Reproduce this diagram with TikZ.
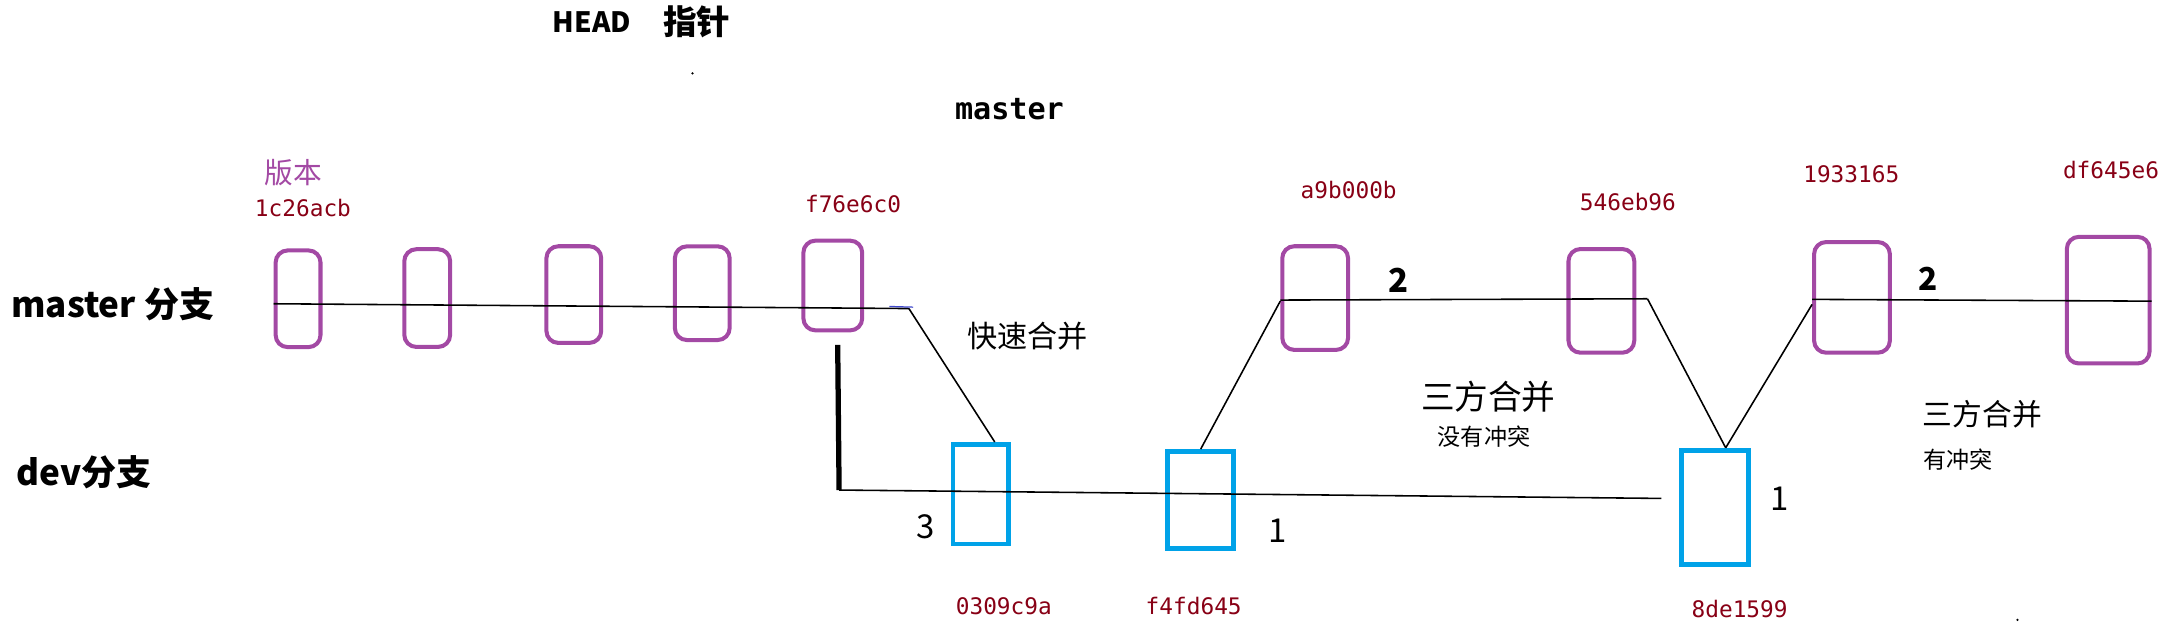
\documentclass[tikz,border=0pt]{standalone}
\usepackage{fontspec}
\setmainfont{Noto Sans CJK SC}
\newfontfamily\hashfont{DejaVu Sans Mono}
\usetikzlibrary{positioning}
\definecolor{commitpurple}{RGB}{163,73,164}
\definecolor{devcyan}{RGB}{0,162,232}
\definecolor{hashred}{RGB}{136,0,21}
\definecolor{dashblue}{RGB}{63,72,204}

\begin{document}
\begin{tikzpicture}[x=0.014cm, y=-0.014cm,
    mbox/.style={draw=commitpurple, line width=1.15pt, rounded corners=1.2mm, inner sep=0pt},
    dbox/.style={draw=devcyan, line width=1.35pt, inner sep=0pt},
    hash/.style={text=hashred, font=\hashfont\fontsize{6.5}{7}\selectfont, inner sep=0pt},
    branch/.style={font=\bfseries\fontsize{10}{12}\selectfont, anchor=west, inner sep=0pt},
    merge/.style={font=\fontsize{9.6}{11}\selectfont, inner sep=0pt},
    note/.style={font=\fontsize{6.6}{8}\selectfont, inner sep=0pt},
    count/.style={font=\fontsize{9.4}{11}\selectfont, inner sep=0pt},
    edge/.style={line width=0.45pt}]
    \useasboundingbox (0,0) rectangle (1560,451);

    \node [branch] (mb) at (7.6,218) {master 分支};
    \node [branch] (db) at (11.5,338) {dev分支};
    \node [font=\bfseries\fontsize{8}{10}\selectfont, inner sep=0pt] (head) at (424,16) {HEAD};
    \node [font=\bfseries\fontsize{9.6}{11}\selectfont, inner sep=0pt] (ptr) at (499,16) {指针};
    \node [font=\hashfont\bfseries\fontsize{8.6}{10}\selectfont, inner sep=0pt] (mref) at (723,78) {master};
    \node [text=commitpurple, font=\fontsize{8.2}{10}\selectfont, inner sep=0pt] (ver) at (210,124) {版本};

    \node [mbox, minimum width=0.45cm, minimum height=0.97cm] (m1) at (213.5,214) {};
    \node [mbox, minimum width=0.46cm, minimum height=0.98cm] (m2) at (306,213.5) {};
    \node [mbox, minimum width=0.55cm, minimum height=0.97cm] (m3) at (411,211) {};
    \node [mbox, minimum width=0.55cm, minimum height=0.94cm] (m4) at (503,210) {};
    \node [mbox, minimum width=0.59cm, minimum height=0.90cm] (m5) at (596.5,204.5) {};
    \node [mbox, minimum width=0.66cm, minimum height=1.04cm] (m6) at (942,213.5) {};
    \node [mbox, minimum width=0.66cm, minimum height=1.04cm] (m7) at (1147,215.5) {};
    \node [mbox, minimum width=0.76cm, minimum height=1.11cm] (m8) at (1326.5,213) {};
    \node [mbox, minimum width=0.83cm, minimum height=1.27cm] (m9) at (1510,215) {};

    \node [dbox, minimum width=0.56cm, minimum height=1.00cm] (d1) at (702.5,354) {};
    \node [dbox, minimum width=0.66cm, minimum height=0.97cm] (d2) at (860,358) {};
    \node [dbox, minimum width=0.67cm, minimum height=1.15cm] (d3) at (1228.5,363.5) {};

    \node [hash] (h1) at (217,149) {1c26acb};
    \node [hash] (h5) at (611,146) {f76e6c0};
    \node [hash] (h6) at (966,136) {a9b000b};
    \node [hash] (h7) at (1166,145) {546eb96};
    \node [hash] (h8) at (1326,125) {1933165};
    \node [hash] (h9) at (1512,122) {df645e6};
    \node [hash] (g1) at (719,434) {0309c9a};
    \node [hash] (g2) at (855,434) {f4fd645};
    \node [hash] (g3) at (1246,436) {8de1599};

    \node [font=\fontsize{8.6}{10}\selectfont, inner sep=0pt] (ff) at (736,241) {快速合并};
    \node [merge] (t1) at (1066,284) {三方合并};
    \node [note] (n1) at (1063,313) {没有冲突};
    \node [merge, font=\fontsize{8.5}{10}\selectfont] (t2) at (1420,297) {三方合并};
    \node [note, anchor=west] (n2) at (1377,329) {有冲突};

    \node [count, font=\bfseries\fontsize{9.4}{11}\selectfont] (c1) at (1002,201) {2};
    \node [count, font=\bfseries\fontsize{9}{11}\selectfont] (c2) at (1381,200) {2};
    \node [count] (c3) at (663,377) {3};
    \node [count] (c4) at (915,380) {1};
    \node [count] (c5) at (1275,357) {1};

    \coordinate (e1) at (651,221);
    \coordinate (e2) at (1180,214);
    \coordinate (v1) at (600,247);
    \coordinate (v2) at (601,351);
    \coordinate (e3) at (1190,357);

    \draw [edge] ([yshift=-0.05cm]m1.west) -- (e1);
    \draw [edge] (e1) -- (d1.75);
    \draw [edge] (d2.north) -- (m6.185);
    \draw [edge] ([yshift=-0.02cm]m6.west) -- (e2);
    \draw [edge] (e2) -- (d3.80);
    \draw [edge] (d3.80) -- (m8.190);
    \draw [edge] ([yshift=-0.02cm]m8.west) -- ([yshift=-0.01cm]m9.east);
    \draw [line width=1.5pt] (v1) -- (v2);
    \draw [edge] (v2) -- (e3);
    \draw [dashblue, line width=0.35pt] (637,219.5) -- (654,220);
    \fill (496,52.5) circle (0.9);
    \fill (1445,444) circle (0.9);
\end{tikzpicture}
\end{document}
